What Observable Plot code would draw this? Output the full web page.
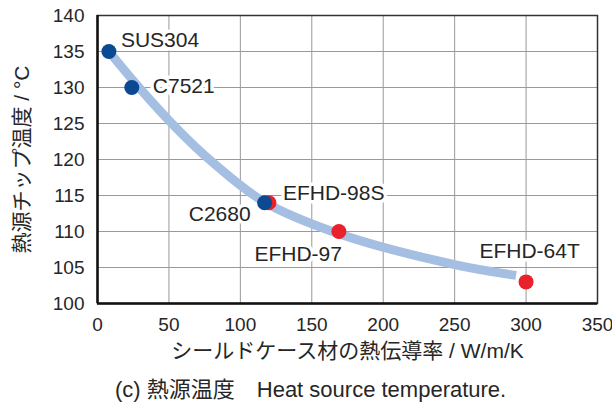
<!DOCTYPE html>
<html><head><meta charset="utf-8">
<script src="https://cdn.jsdelivr.net/npm/d3@7"></script>
<script src="https://cdn.jsdelivr.net/npm/@observablehq/plot@0.6"></script>
<style>
body{margin:0;background:#fff;font-family:"Liberation Sans",Arial,"Noto Sans CJK JP",sans-serif;}
#chart{position:absolute;left:0;top:0;}
#caption{position:absolute;top:377px;left:115px;white-space:nowrap;font-size:22px;line-height:26px;color:#262626;}
g[aria-label="x-axis label"] text, g[aria-label="y-axis label"] text{font-size:21px;}
</style></head><body>
<div id="chart"></div>
<div id="caption">(c) 熱源温度　Heat source temperature.</div>
<script>
// Data
const materials    = ["SUS304", "C7521", "C2680", "EFHD-98S", "EFHD-97", "EFHD-64T"];
const conductivity = [8, 24, 117, 120, 169, 300];       // W/m/K
const temperature  = [135, 130, 114, 114, 110, 103];    // °C
const kind         = ["従来材", "従来材", "従来材", "EFHD", "EFHD", "EFHD"];

// Trend curve
const curveX = [8, 30, 55, 80, 116, 169, 250, 293];
const curveY = [135, 129.8, 124.4, 119.7, 114.2, 109.7, 105.4, 103.9];

const xTicks = [0, 50, 100, 150, 200, 250, 300, 350];
const yTicks = [100, 105, 110, 115, 120, 125, 130, 135, 140];

const points = materials.map((m, i) => ({name: m, x: conductivity[i], y: temperature[i], kind: kind[i]}));
const curve = curveX.map((x, i) => ({x, y: curveY[i]}));

// label placement (style)
const labelPlace = {
  "SUS304":   {dx: 12,  dy: -11,  textAnchor: "start"},
  "C7521":    {dx: 21,  dy: -1.5, textAnchor: "start"},
  "C2680":    {dx: -14, dy: 12,   textAnchor: "end"},
  "EFHD-98S": {dx: 14,  dy: -9.5, textAnchor: "start"},
  "EFHD-97":  {dx: 3,   dy: 22.5, textAnchor: "end"},
  "EFHD-64T": {dx: 3.5, dy: -31,  textAnchor: "middle"}
};

const labelMarks = points.map(p => Plot.text([p], {
  x: "x", y: "y", text: "name",
  ...labelPlace[p.name],
  fontSize: 21, fill: "#262626",
  stroke: "white", strokeWidth: 7, paintOrder: "stroke"
}));

const chart = Plot.plot({
  width: 612, height: 366,
  marginLeft: 97, marginRight: 15, marginTop: 15, marginBottom: 63,
  style: {fontFamily: '"Liberation Sans", Arial, "Noto Sans CJK JP", sans-serif', fontSize: "19px", color: "#262626", background: "white"},
  x: {domain: [0, 350]},
  y: {domain: [100, 140]},
  color: {domain: ["従来材", "EFHD"], range: ["#0b4a92", "#e8212b"]},
  marks: [
    Plot.gridX(xTicks, {stroke: "#999", strokeOpacity: 1, strokeWidth: 1}),
    Plot.gridY(yTicks, {stroke: "#999", strokeOpacity: 1, strokeWidth: 1}),
    Plot.frame({stroke: "#333", strokeWidth: 1.5}),
    Plot.ruleX([0], {stroke: "#111", strokeWidth: 2.5}),
    Plot.ruleY([100], {stroke: "#111", strokeWidth: 2.5}),
    Plot.axisX(xTicks, {tickSize: 0, tickPadding: 14, label: "シールドケース材の熱伝導率 / W/m/K", labelAnchor: "center", labelArrow: "none", labelOffset: 54}),
    Plot.axisY(yTicks, {tickSize: 0, tickPadding: 13, label: "熱源チップ温度 / °C", labelAnchor: "center", labelArrow: "none", labelOffset: 83}),
    Plot.line(curve, {x: "x", y: "y", curve: "catmull-rom", stroke: "#a5bfe3", strokeWidth: 9, strokeLinecap: "butt"}),
    ...labelMarks,
    Plot.dot(points.filter(d => d.kind === "EFHD"), {x: "x", y: "y", r: 7.5, fill: "kind"}),
    Plot.dot(points.filter(d => d.kind !== "EFHD"), {x: "x", y: "y", r: 7.5, fill: "kind"})
  ]
});
document.getElementById("chart").appendChild(chart);
</script>
</body></html>
